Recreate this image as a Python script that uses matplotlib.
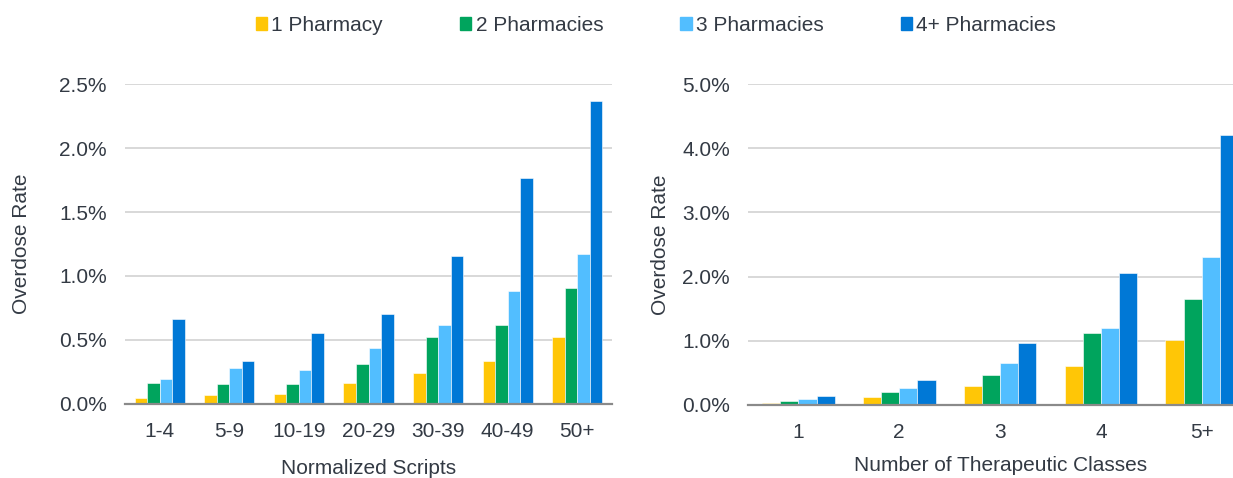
import numpy as np
import matplotlib.pyplot as plt
from matplotlib.patches import Patch
from matplotlib.ticker import FuncFormatter

plt.rcParams['font.family'] = ['Liberation Sans', 'DejaVu Sans']

series = ['1 Pharmacy', '2 Pharmacies', '3 Pharmacies', '4+ Pharmacies']
colors = ['#FFC606', '#00A45D', '#52BEFF', '#0078D6']
txt = '#333a44'

scripts = ['1-4', '5-9', '10-19', '20-29', '30-39', '40-49', '50+']
scripts_rate = [
    [0.047, 0.073, 0.078, 0.161, 0.242, 0.338, 0.522],
    [0.161, 0.159, 0.159, 0.312, 0.522, 0.616, 0.904],
    [0.192, 0.281, 0.265, 0.437, 0.618, 0.886, 1.169],
    [0.663, 0.335, 0.551, 0.699, 1.156, 1.765, 2.370],
]

classes = ['1', '2', '3', '4', '5+']
classes_rate = [
    [0.031, 0.115, 0.287, 0.601, 1.008],
    [0.068, 0.199, 0.465, 1.123, 1.656],
    [0.084, 0.261, 0.653, 1.191, 2.299],
    [0.141, 0.381, 0.972, 2.053, 4.211],
]

fig = plt.figure(figsize=(12.33, 4.78), dpi=100)
ax1 = fig.add_axes([0.1014, 0.155, 0.395, 0.669])
ax2 = fig.add_axes([0.6066, 0.153, 0.409, 0.671])

w = 0.18


def draw(ax, cats, data, ymax, step, fmt, xlabel, xlabpad, ylabpad):
    x = np.arange(len(cats))
    for i, vals in enumerate(data):
        ax.bar(x + (i - 1.5) * w, vals, w, color=colors[i],
               edgecolor='white', linewidth=0.4, zorder=3)
    ax.set_xlim(-0.5, len(cats) - 0.5)
    ax.set_ylim(0, ymax)
    ax.set_yticks(np.arange(0, ymax + step / 2, step))
    ax.yaxis.set_major_formatter(FuncFormatter(lambda v, p: fmt.format(v)))
    ax.set_xticks(x)
    ax.set_xticklabels(cats)
    ax.grid(axis='y', color='#d6d6d6', linewidth=1.3, zorder=0)
    for s in ['top', 'right', 'left']:
        ax.spines[s].set_visible(False)
    ax.spines['bottom'].set_color('#8a8a8a')
    ax.spines['bottom'].set_linewidth(1.6)
    ax.spines['bottom'].set_zorder(4)
    ax.tick_params(axis='both', length=0, labelsize=15, colors=txt)
    ax.tick_params(axis='y', pad=13)
    ax.tick_params(axis='x', pad=13)
    ax.set_ylabel('Overdose Rate', fontsize=15, color=txt, labelpad=ylabpad)
    ax.set_xlabel(xlabel, fontsize=15, color=txt, labelpad=xlabpad)


draw(ax1, scripts, scripts_rate, 2.5, 0.5, '{:.1f}%', 'Normalized Scripts', 13, 20)
draw(ax2, classes, classes_rate, 5.0, 1.0, '{:.1f}%', 'Number of Therapeutic Classes', 10, 9)

handles = [Patch(color=c) for c in colors]
fig.legend(handles, series, loc='center', bbox_to_anchor=(0.532, 0.947), ncol=4,
           frameon=False, fontsize=15, handlelength=0.55, handleheight=0.55,
           handletextpad=0.2, columnspacing=3.7, labelcolor=txt)

fig.savefig('out.png', dpi=100)
